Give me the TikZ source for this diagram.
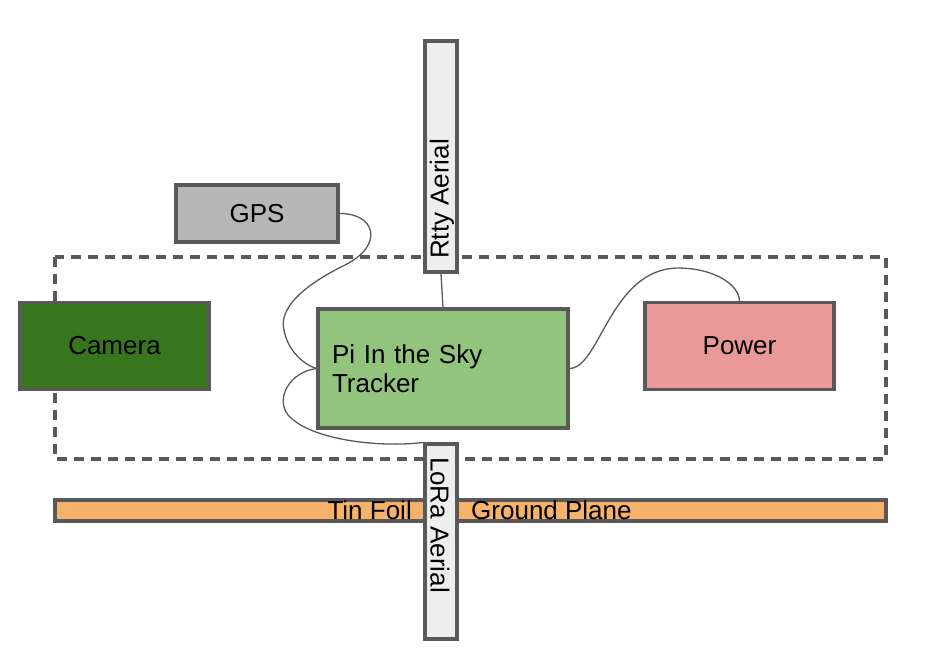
\documentclass[tikz,border=0pt]{standalone}
\usepackage{fontspec}
\setmainfont{Liberation Sans}
\definecolor{edge}{HTML}{595959}
\definecolor{gpsfill}{HTML}{B7B7B7}
\definecolor{camfill}{HTML}{38761D}
\definecolor{pifill}{HTML}{93C47D}
\definecolor{powfill}{HTML}{EA9999}
\definecolor{foilfill}{HTML}{F6B26B}
\definecolor{aerfill}{HTML}{EEEEEE}
\begin{document}
\begin{tikzpicture}[x=1pt,y=-1pt,
  txt/.style={font=\fontsize{26}{29}\selectfont},
  box/.style={draw=edge, line width=3.2pt, rectangle, inner sep=0pt, txt},
  wire/.style={draw=edge, line width=1.3pt}]
\useasboundingbox (0,0) rectangle (937,659);
% dashed enclosure
\draw[edge, line width=3.2pt, dash pattern=on 10pt off 7pt] (55,257) rectangle (886,459);
% ground plane
\node[box, fill=foilfill, minimum width=831pt, minimum height=21pt] (foil) at (470.5,510.5) {};
\node[txt, inner sep=0pt, anchor=base east] (tin) at (412,519) {Tin Foil};
\node[txt, inner sep=0pt, anchor=base west] (gp) at (471,519) {Ground Plane};
% boxes
\node[box, fill=gpsfill, minimum width=162pt, minimum height=57pt] (gps) at (257,213.5) {GPS};
\node[box, fill=camfill, minimum width=189pt, minimum height=87pt] (cam) at (114.5,346) {Camera};
\node[box, fill=powfill, minimum width=189pt, minimum height=87pt] (pow) at (739.5,346) {Power};
\node[box, fill=pifill, minimum width=250pt, minimum height=119pt, text width=222pt, align=left] (pi) at (443,368.5) {Pi In the Sky\\Tracker};
\node[box, fill=aerfill, minimum width=32pt, minimum height=231pt] (rtty) at (441,156.5) {};
\node[txt, inner sep=0pt, rotate=90] (rttyt) at (442,199) {Rtty Aerial};
\node[box, fill=aerfill, minimum width=32pt, minimum height=195pt] (lora) at (441,541.5) {};
\node[txt, inner sep=0pt, rotate=-90] (lorat) at (440,525) {LoRa Aerial};
% connectors
\draw[wire] (gps.east) .. controls (375,213) and (385,245) .. (345,265)
   .. controls (290,292) and (280,315) .. (284,330)
   .. controls (288,352) and (305,365) .. (pi.west);
\draw[wire] (pi.west) .. controls (290,372) and (275,398) .. (288,415)
   .. controls (310,440) and (380,448) .. (lora.north west);
\draw[wire] (rtty.south) -- (pi.north);
\draw[wire] (pi.east) .. controls (600,368) and (610,270) .. (677,268)
   .. controls (715,268) and (739,285) .. (pow.north);
\end{tikzpicture}
\end{document}
